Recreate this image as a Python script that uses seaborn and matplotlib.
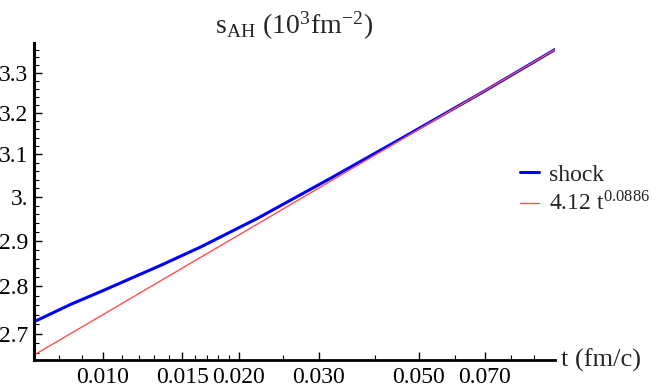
import numpy as np
import pandas as pd
import seaborn as sns
import matplotlib.pyplot as plt
from matplotlib.ticker import FixedLocator, FixedFormatter, NullFormatter

# data (log-log plot)
t_shock = [0.00704, 0.0085, 0.010, 0.0115, 0.0135, 0.0165, 0.022, 0.032, 0.0456, 0.070, 0.100]
s_shock = [2.725, 2.762, 2.791, 2.817, 2.847, 2.887, 2.951, 3.044, 3.137, 3.255, 3.360]

# fit line 4.12 t^0.0886, straight on log-log, endpoints only
t_fit = [0.00704, 0.100]
s_fit = [2.656, 3.360]

x_ticks = [0.010, 0.015, 0.020, 0.030, 0.050, 0.070]
x_labels = ['0.010', '0.015', '0.020', '0.030', '0.050', '0.070']
x_minor = [0.008, 0.009, 0.011, 0.012, 0.013, 0.014, 0.016, 0.017, 0.018, 0.019,
           0.025, 0.04, 0.06, 0.08, 0.09]
y_ticks = [2.7, 2.8, 2.9, 3.0, 3.1, 3.2, 3.3]
y_labels = ['2.7', '2.8', '2.9', '3.', '3.1', '3.2', '3.3']
y_minor = [2.66, 2.68, 2.72, 2.74, 2.76, 2.78, 2.82, 2.84, 2.86, 2.88,
           2.92, 2.94, 2.96, 2.98, 3.02, 3.04, 3.06, 3.08, 3.12, 3.14, 3.16, 3.18,
           3.22, 3.24, 3.26, 3.28, 3.32, 3.34, 3.36]

sns.set_style('white')
plt.rcParams['font.family'] = ['Liberation Serif', 'DejaVu Serif']
plt.rcParams['mathtext.fontset'] = 'stix'

df_shock = pd.DataFrame({'t': t_shock, 's': s_shock})
df_fit = pd.DataFrame({'t': t_fit, 's': s_fit})

fig = plt.figure(figsize=(6.52, 3.91), dpi=100)
ax = fig.add_axes([0.0521, 0.0793, 0.7990, 0.8107])

sns.lineplot(data=df_shock, x='t', y='s', ax=ax, color='#0000ff', linewidth=2.2,
             label='shock', sort=False)
sns.lineplot(data=df_fit, x='t', y='s', ax=ax, color='#ff5050', linewidth=1.0,
             label=r'4.12 t$^{\mathregular{0.0886}}$', sort=False)

ax.set_xscale('log')
ax.set_yscale('log')
ax.set_xlim(0.00704, 0.1)
ax.set_ylim(2.646, 3.377)

ax.xaxis.set_major_locator(FixedLocator(x_ticks))
ax.xaxis.set_major_formatter(FixedFormatter(x_labels))
ax.xaxis.set_minor_locator(FixedLocator(x_minor))
ax.xaxis.set_minor_formatter(NullFormatter())
ax.yaxis.set_major_locator(FixedLocator(y_ticks))
ax.yaxis.set_major_formatter(FixedFormatter(y_labels))
ax.yaxis.set_minor_locator(FixedLocator(y_minor))
ax.yaxis.set_minor_formatter(NullFormatter())

ax.tick_params(which='major', direction='in', length=6, width=1, labelsize=17,
               color='black', labelcolor='black')
ax.tick_params(which='minor', direction='in', length=3.5, width=0.8, color='black')
ax.tick_params(axis='x', which='both', bottom=True, pad=5)
ax.tick_params(axis='y', which='both', left=True, pad=4)

for side in ['top', 'right']:
    ax.spines[side].set_visible(False)
ax.spines['left'].set_linewidth(2.2)
ax.spines['bottom'].set_linewidth(2.0)
ax.spines['left'].set_color('black')
ax.spines['bottom'].set_color('black')

ax.set_xlabel('t (fm/c)', fontsize=19, ha='left', va='center')
ax.xaxis.set_label_coords(1.012, 0.0)
ax.set_ylabel('')
ax.set_title(r's$_{\mathregular{AH}}$ (10$^{\mathregular{3}}$fm$^{\mathregular{-2}}$)',
             fontsize=20, pad=7)

ax.legend_.remove()
handles, labels = ax.get_legend_handles_labels()
fig.legend(handles, labels, loc='center left', bbox_to_anchor=(0.797, 0.514),
           bbox_transform=fig.transFigure, frameon=False, fontsize=17,
           handlelength=0.8, handletextpad=0.45, borderpad=0, borderaxespad=0,
           labelspacing=0.25)

fig.savefig('out.png', dpi=100)
